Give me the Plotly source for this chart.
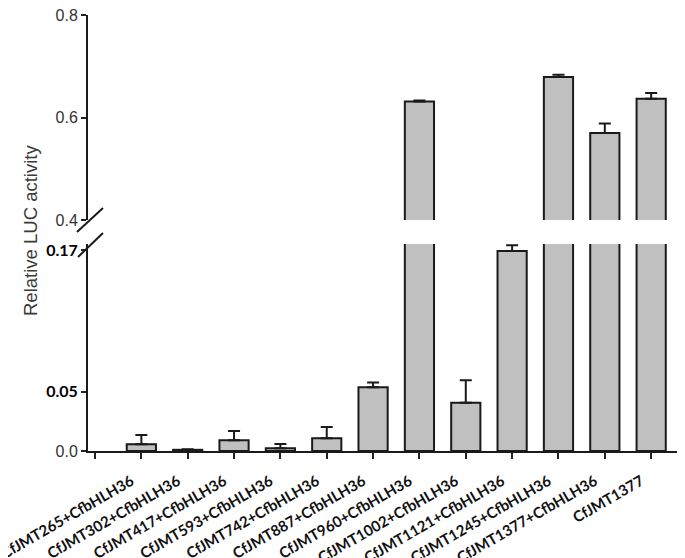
import plotly.graph_objects as go

# ---- data ----
samples = ["CfJMT265+CfbHLH36", "CfJMT302+CfbHLH36", "CfJMT417+CfbHLH36",
           "CfJMT593+CfbHLH36", "CfJMT742+CfbHLH36", "CfJMT887+CfbHLH36",
           "CfJMT960+CfbHLH36", "CfJMT1002+CfbHLH36", "CfJMT1121+CfbHLH36",
           "CfJMT1245+CfbHLH36", "CfJMT1377+CfbHLH36", "CfJMT1377"]
means = [0.0057, 0.0010, 0.0090, 0.0023, 0.0107, 0.0538,
         0.631, 0.0408, 0.169, 0.679, 0.570, 0.6365]
errors = [0.0078, 0.0005, 0.0079, 0.0036, 0.0096, 0.0042,
          0.0023, 0.019, 0.005, 0.0045, 0.0185, 0.0115]
lower_ticks = [0.0, 0.05, 0.17]
lower_ticktext = ["0.0", "0.05", "0.17"]
upper_ticks = [0.4, 0.6, 0.8]
upper_ticktext = ["0.4", "0.6", "0.8"]
lower_range = [0, 0.175]
upper_range = [0.4, 0.8]

# ---- layout geometry (pixels, in screenshot coordinates) ----
OFF = 8  # page body margin
W, H = 685 - OFF, 558 - OFF
plot_left, plot_top, plot_bottom, plot_right = 88, 15, 451, 685
L, T = plot_left - OFF, plot_top - OFF
R = (W + OFF) - plot_right
B = (H + OFF) - plot_bottom
PW, PH = plot_right - plot_left, plot_bottom - plot_top


def pxx(x):
    return (x - plot_left) / PW


def pyy(y):
    return (plot_bottom - y) / PH


xpos = list(range(1, len(samples) + 1))
bar_fill = "#c0c0c0"
edge = "#1a1a1a"

fig = go.Figure()
for yax in ["y", "y2"]:
    fig.add_trace(go.Bar(
        x=xpos, y=means, yaxis=yax, xaxis="x", width=0.63,
        marker=dict(color=bar_fill, line=dict(color=edge, width=2)),
        error_y=dict(type="data", array=errors, arrayminus=[0] * len(errors),
                     symmetric=False, color=edge, thickness=2, width=6),
        showlegend=False, hoverinfo="skip",
    ))

bold = lambda s: '<span style="font-family:Lato;font-weight:bold;color:#000">%s</span>' % s
lower_text = [t if i == 0 else bold(t) for i, t in enumerate(lower_ticktext)]

fig.update_layout(
    width=W, height=H,
    margin=dict(l=L, r=R, t=T, b=B, autoexpand=False),
    plot_bgcolor="white", paper_bgcolor="white",
    bargap=0.3,
    font=dict(family="Liberation Sans, Arial", color="#333"),
    xaxis=dict(
        range=[-0.151, 12.73], tickmode="array",
        tickvals=[0] + xpos, ticktext=[""] + samples,
        tickangle=-30, ticks="outside", ticklen=6, tickwidth=1.5, tickcolor="#222",
        ticklabelstandoff=8, ticklabelshift=-10, ticklabeloverflow="allow",
        showline=True, linecolor="#1a1a1a", linewidth=2,
        showgrid=False, zeroline=False, anchor="y", automargin=False,
        tickfont=dict(family="Lato", size=15, color="#111", weight="bold"),
    ),
    yaxis=dict(
        domain=[0, pyy(244)], range=lower_range,
        tickmode="array", tickvals=lower_ticks, ticktext=lower_text,
        ticks="outside", ticklen=5, tickwidth=1.5, tickcolor="#222",
        ticklabeloverflow="allow",
        showline=True, linecolor="#1a1a1a", linewidth=2,
        showgrid=False, zeroline=False, anchor="x", automargin=False,
        tickfont=dict(size=16, color="#333"),
    ),
    yaxis2=dict(
        domain=[pyy(220), 1], range=upper_range,
        tickmode="array", tickvals=upper_ticks, ticktext=upper_ticktext,
        ticks="outside", ticklen=5, tickwidth=1.5, tickcolor="#222",
        ticklabeloverflow="allow",
        showline=True, linecolor="#1a1a1a", linewidth=2,
        showgrid=False, zeroline=False, anchor="x", automargin=False,
        tickfont=dict(size=16, color="#333"),
    ),
)

# axis-break slashes
for (x0, y0, x1, y1) in [(77, 232, 103, 208), (78, 257, 103, 233)]:
    fig.add_shape(type="line", xref="paper", yref="paper",
                  x0=pxx(x0), y0=pyy(y0), x1=pxx(x1), y1=pyy(y1),
                  line=dict(color="#1a1a1a", width=2))

fig.add_annotation(
    text="Relative LUC activity", textangle=-90,
    xref="paper", yref="paper", x=pxx(30), y=pyy(231),
    xanchor="center", yanchor="middle",
    showarrow=False, font=dict(size=18.5, color="#3a3a3a", family="Liberation Sans, Arial"),
)

fig.write_html("out.html")
